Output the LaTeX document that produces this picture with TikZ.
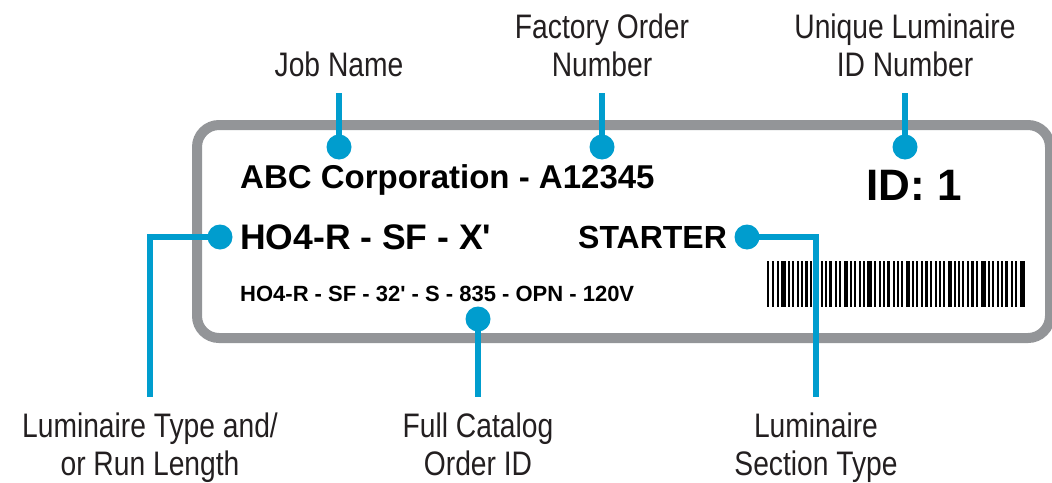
\documentclass[tikz,border=0pt]{standalone}
\usepackage{fontspec}
\setmainfont{Liberation Sans}[Ligatures=TeXOff]
\newfontfamily\condfont[FakeStretch=0.83]{Liberation Sans}
\definecolor{callblue}{RGB}{0,157,206}
\definecolor{boxgray}{RGB}{147,149,152}
\definecolor{labtext}{RGB}{35,31,32}
\tikzset{
  lbl/.style={font=\condfont\fontsize{34}{38}\selectfont, text=labtext, align=center, inner sep=0pt},
  dotc/.style={circle, fill=callblue, minimum size=25pt, inner sep=0pt},
  conn/.style={draw=callblue, line width=6pt},
  big/.style={font=\bfseries\fontsize{33}{38}\selectfont, inner sep=0pt, anchor=base west},
}
\begin{document}
\begin{tikzpicture}[x=1pt,y=-1pt]
\useasboundingbox (0,0) rectangle (1052,482);
% label box
\draw[boxgray, line width=10pt, rounded corners=22pt] (197,125) rectangle (1050,338);
% texts on label
\node[big] (abc) at (240,188) {ABC Corporation - A12345};
\node[big, font=\bfseries\fontsize{35.5}{38}\selectfont] (ho) at (240,249) {HO4-R - SF - X'};
\node[big, font=\bfseries\fontsize{32}{38}\selectfont] (st) at (578,248) {STARTER};
\node[big, font=\bfseries\fontsize{22}{24}\selectfont] (cat) at (240,301) {HO4-R - SF - 32' - S - 835 - OPN - 120V};
\node[big, font=\bfseries\fontsize{44}{48}\selectfont] (id) at (866,200) {ID: 1};
% barcode
\def\bx{767}
\foreach \w/\g in {2/3,2/3,2/2,5/2,2/2,2/3,2/2,2/2,3/2,2/3,4/2,2/2,2/2,3/3,2/2,2/3,4/2,2/2,2/3,2/2,2/2,5/2,2/3,2/2,2/2,3/3,2/2,2/2,2/3,4/2,2/2,2/3,2/2,3/2,2/3,2/2,2/2,2/3,4/2,2/2,2/2,2/3,2/2,3/2,2/3,5/2,2/2,2/3,2/2,2/2,3/3,2/2,2/3,5/0}{
  \fill[black] (\bx,261) rectangle ++(\w,46);
  \pgfmathparse{\bx+\w+\g}\xdef\bx{\pgfmathresult}
}
% callout labels (anchor base = baseline of last line)
\node[lbl, anchor=base] (ljob) at (339,76) {Job Name};
\node[lbl, anchor=base] (lfac) at (602,76) {Factory Order\\Number};
\node[lbl, anchor=base] (lid) at (905,76) {Unique Luminaire\\ID Number};
\node[lbl, anchor=base] (ltype) at (150,475) {Luminaire Type and/\\or Run Length};
\node[lbl, anchor=base] (lcat) at (478,475) {Full Catalog\\Order ID};
\node[lbl, anchor=base] (lsec) at (816,475) {Luminaire\\Section Type};
% dots
\node[dotc] (djob) at (339,147) {};
\node[dotc] (dfac) at (602,147) {};
\node[dotc] (did) at (905,147) {};
\node[dotc] (dtype) at (220,237) {};
\node[dotc] (dsec) at (747,237) {};
\node[dotc] (dcat) at (478,319) {};
% connectors
\coordinate (cjob) at (339,93);
\coordinate (cfac) at (602,93);
\coordinate (cid) at (905,93);
\coordinate (ctype) at (150,397);
\coordinate (ccat) at (478,397);
\coordinate (csec) at (816,397);
\draw[conn] (cjob) -- (djob.center);
\draw[conn] (cfac) -- (dfac.center);
\draw[conn] (cid) -- (did.center);
\draw[conn] (dtype.center) -| (ctype);
\draw[conn] (dcat.center) -- (ccat);
\draw[conn] (dsec.center) -| (csec);
\end{tikzpicture}
\end{document}
